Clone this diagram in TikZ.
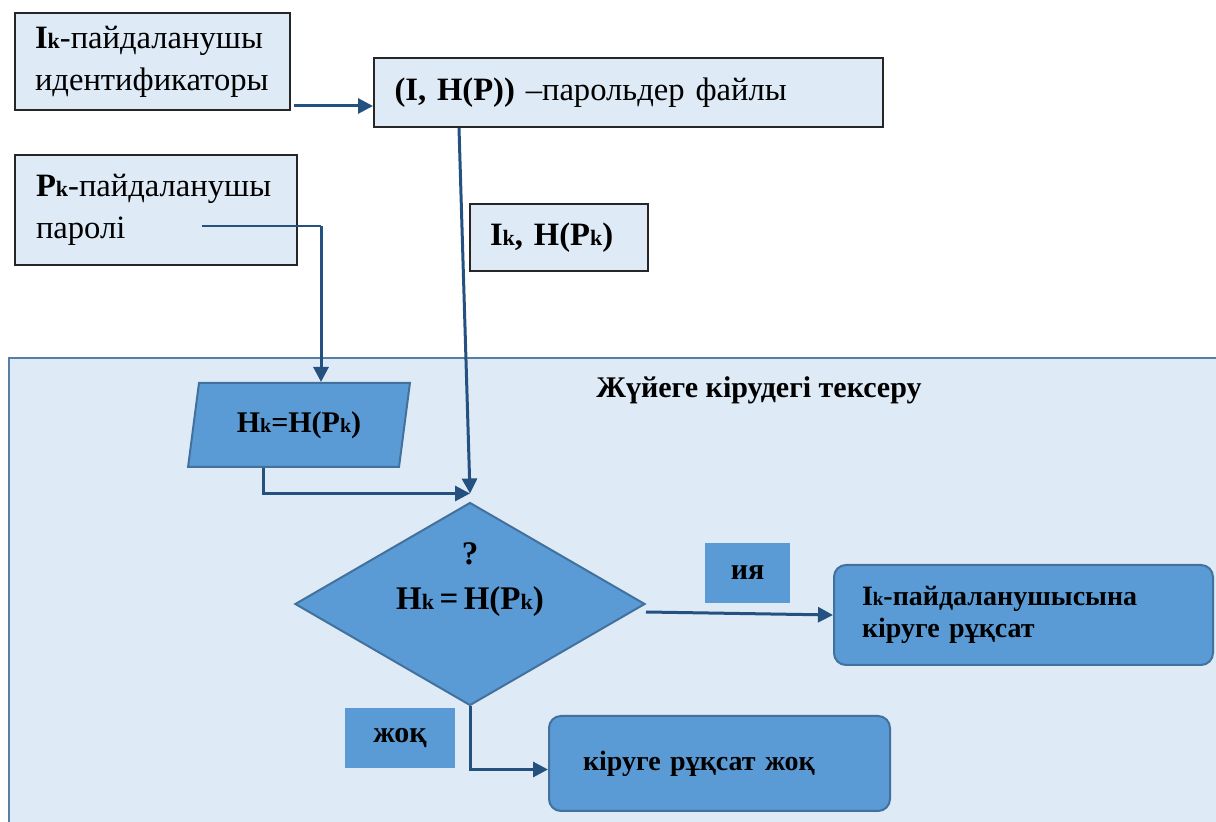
\documentclass[tikz,border=0pt]{standalone}
\usepackage{fontspec}
\setmainfont{Liberation Serif}
\usetikzlibrary{shapes.geometric,arrows.meta}
\definecolor{paleblue}{HTML}{DEEAF6}
\definecolor{midblue}{HTML}{5B9BD5}
\definecolor{edgeblue}{HTML}{41719C}
\definecolor{linkblue}{HTML}{24517F}
\newcommand{\kk}[1]{{\fontsize{#1}{#1}\selectfont k}}

\begin{document}
\begin{tikzpicture}[x=0.5pt,y=-0.5pt,>={Triangle[length=7.5pt,width=7.5pt]},
	topbox/.style={draw=black!85,line width=1pt,fill=paleblue,align=left,inner ysep=0pt,font=\fontsize{16.3}{21}\selectfont},
	flowbox/.style={draw=edgeblue,line width=1pt,fill=midblue},
	tagbox/.style={fill=midblue,inner sep=0pt,font=\fontsize{15}{18}\selectfont\bfseries},
	link/.style={draw=linkblue,line width=1.5pt},
	thinlink/.style={draw=linkblue,line width=0.6pt}]
			\useasboundingbox (0,0) rectangle (1216,822);
			\node[draw=edgeblue!90,fill=paleblue,line width=0.8pt,minimum width=620pt,minimum height=245pt,anchor=north west] (checkarea) at (8,357) {};
			\node[font=\fontsize{15}{18}\selectfont\bfseries] (areatitle) at (759,390) {Жүйеге кірудегі тексеру};
			\node[topbox,text width=117.5pt,inner xsep=10pt,minimum height=48.5pt] (idbox) at (152.5,61.5) {\textbf{I\kk{11}}-пайдаланушы\\идентификаторы};
			\node[topbox,text width=234pt,inner xsep=10.25pt,minimum height=34.5pt] (filebox) at (628.5,92.5) {\textbf{(I, H(P))} –парольдер файлы};
			\node[topbox,text width=120pt,inner xsep=10.5pt,minimum height=55pt] (pwbox) at (156,210) {\textbf{P\kk{11}}-пайдаланушы\\парол\char"0456};
			\node[topbox,text width=69pt,inner xsep=10pt,minimum height=33.5pt,font=\fontsize{16.3}{21}\selectfont\bfseries] (hashbox) at (559,237.5) {I\kk{11}, H(P\kk{11})};
			\node[flowbox,shape=trapezium,trapezium left angle=76,trapezium right angle=104,trapezium stretches=true,minimum width=111pt,minimum height=42pt,inner sep=0pt,font=\fontsize{15}{18}\selectfont\bfseries] (para) at (299,425) {H\kk{10}=H(P\kk{10})};
			\node[flowbox,shape=diamond,minimum width=175pt,minimum height=101.5pt,inner sep=0pt] (check) at (470,604) {};
			\node[align=center,font=\fontsize{16.5}{22.5}\selectfont\bfseries] (checktext) at (470,580) {?\\H\kk{11}\,=\,H(P\kk{11})};
			\node[tagbox,minimum width=42.5pt,minimum height=30pt] (yestag) at (747.5,573) {ия};
			\node[tagbox,minimum width=55pt,minimum height=30pt] (notag) at (400,738) {жоқ};
			\node[flowbox,rounded corners=6pt,text width=161.5pt,inner xsep=14pt,minimum height=50pt,align=left,font=\fontsize{14}{16}\selectfont\bfseries] (okbox) at (1023.5,615) {I\kk{9.5}-пайдаланушысына\\кіруге рұқсат};
			\node[flowbox,rounded corners=6pt,text width=136.5pt,inner xsep=17pt,minimum height=47.5pt,align=left,font=\fontsize{14}{16}\selectfont\bfseries] (nobox) at (719.5,763.5) {кіруге рұқсат жоқ};
			\coordinate (idout) at ([xshift=1.5pt,yshift=2.5pt]idbox.south east);
			\coordinate (fileout) at ([xshift=43pt]filebox.south west);
			\coordinate (join) at ([yshift=4pt]check.north);
			\coordinate (pwstart) at ([xshift=94pt,yshift=20pt]pwbox.south west);
			\coordinate (pwturn) at ([xshift=153.5pt,yshift=20pt]pwbox.south west);
			\coordinate (paraout) at ([xshift=38.5pt]para.bottom left corner);
			\draw[link,->] (idout) -- (idout -| filebox.west);
			\draw[link,->] (fileout) -- (join);
			\draw[thinlink] (pwstart) -- (pwturn);
			\draw[link,->] (pwturn) -- (pwturn |- para.north);
			\draw[link,->] (paraout) |- (join);
			\draw[link,->] ([yshift=-4pt]check.east) -- (okbox.west);
			\draw[link,->] (check.south) |- ([yshift=-3pt]nobox.west);
		\end{tikzpicture}
\end{document}
